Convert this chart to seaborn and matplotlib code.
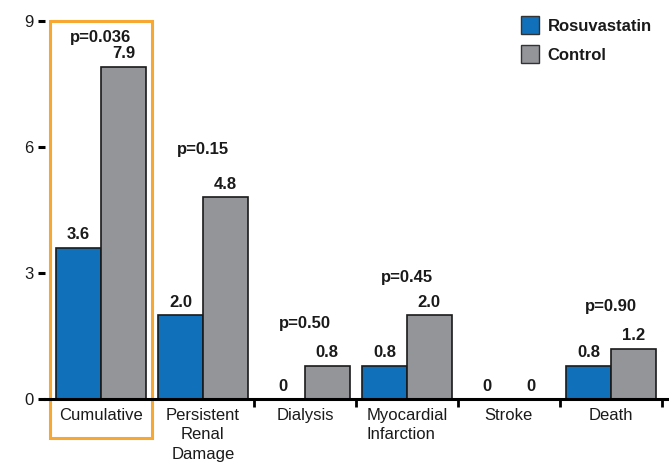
import matplotlib
matplotlib.use("Agg")
import matplotlib.pyplot as plt
from matplotlib.patches import Rectangle
from matplotlib.lines import Line2D
import seaborn as sns
import pandas as pd

categories = ["Cumulative", "Persistent\nRenal\nDamage", "Dialysis",
              "Myocardial\nInfarction", "Stroke", "Death"]
rosuvastatin = [3.6, 2.0, 0.0, 0.8, 0.0, 0.8]
control = [7.9, 4.8, 0.8, 2.0, 0.0, 1.2]
p_values = ["p=0.036", "p=0.15", "p=0.50", "p=0.45", None, "p=0.90"]
p_heights = [8.6, 5.95, 1.8, 2.9, None, 2.2]
y_ticks = [0, 3, 6, 9]

series_names = ["Rosuvastatin", "Control"]
palette = {"Rosuvastatin": "#1170ba", "Control": "#939598"}

df = pd.DataFrame({
    "category": categories * 2,
    "group": [series_names[0]] * len(categories) + [series_names[1]] * len(categories),
    "value": rosuvastatin + control,
})

sns.set_style("white")
plt.rcParams["font.family"] = ["Liberation Sans", "DejaVu Sans"]

fig = plt.figure(figsize=(6.69, 4.62), dpi=100)
ax = fig.add_axes([0.067, 0.136, 0.93, 0.819])

sns.barplot(data=df, x="category", y="value", hue="group", order=categories,
            hue_order=series_names, palette=palette, saturation=1, width=0.88,
            dodge=True, edgecolor="#1a1a1a", linewidth=1.2, errorbar=None,
            legend=False, ax=ax)

# value labels above each bar
for container in ax.containers:
    ax.bar_label(container, labels=[f"{v:.1f}" if v > 0 else "0" for v in container.datavalues],
                 padding=4, fontsize=12, fontweight="bold", color="#1a1a1a")

# p-values above each group
for i, (p, h) in enumerate(zip(p_values, p_heights)):
    if p is not None:
        ax.text(i, h, p, ha="center", va="center", fontsize=12,
                fontweight="bold", color="#1a1a1a")

ax.set_xlim(-0.55, 5.55)
ax.set_ylim(0, 9)
ax.set_yticks(y_ticks)
ax.set_xlabel("")
ax.set_ylabel("")

for s in ["top", "right", "left"]:
    ax.spines[s].set_visible(False)
ax.spines["bottom"].set_linewidth(2.2)
ax.spines["bottom"].set_color("black")

ax.tick_params(axis="y", direction="out", length=5, width=2.2, color="black",
               labelsize=12, pad=3, left=True)
ax.tick_params(axis="x", which="major", length=0, labelsize=12, pad=6)
ax.set_xticks([i + 0.5 for i in range(-1, 6)], minor=True)
ax.tick_params(axis="x", which="minor", direction="out", length=6, width=2, color="black",
               bottom=True)

for lbl, cat in zip(ax.get_xticklabels(), categories):
    lbl.set_va("top")
    lbl.set_multialignment("left" if cat.startswith("Myocardial") else "center")
    lbl.set_color("#1a1a1a")
    lbl.set_linespacing(1.38)
for lbl in ax.get_yticklabels():
    lbl.set_color("#1a1a1a")

# highlight box around the cumulative group
box = Rectangle((-0.5, -0.92), 1.0, 9.92, transform=ax.transData, fill=False,
                edgecolor="#f7a833", linewidth=2.2, clip_on=False)
ax.add_patch(box)

handles = [Line2D([0], [0], marker="s", linestyle="none", markersize=13,
                  markerfacecolor=palette[n], markeredgecolor="#333333",
                  markeredgewidth=1.0) for n in series_names]
leg = ax.legend(handles, series_names, loc="upper right", bbox_to_anchor=(1.0, 1.045),
                frameon=False, prop={"weight": "bold", "size": 12},
                handletextpad=0.45, labelspacing=0.85, handlelength=1.2)
for t in leg.get_texts():
    t.set_color("#1a1a1a")

fig.savefig("out.png", dpi=100)
